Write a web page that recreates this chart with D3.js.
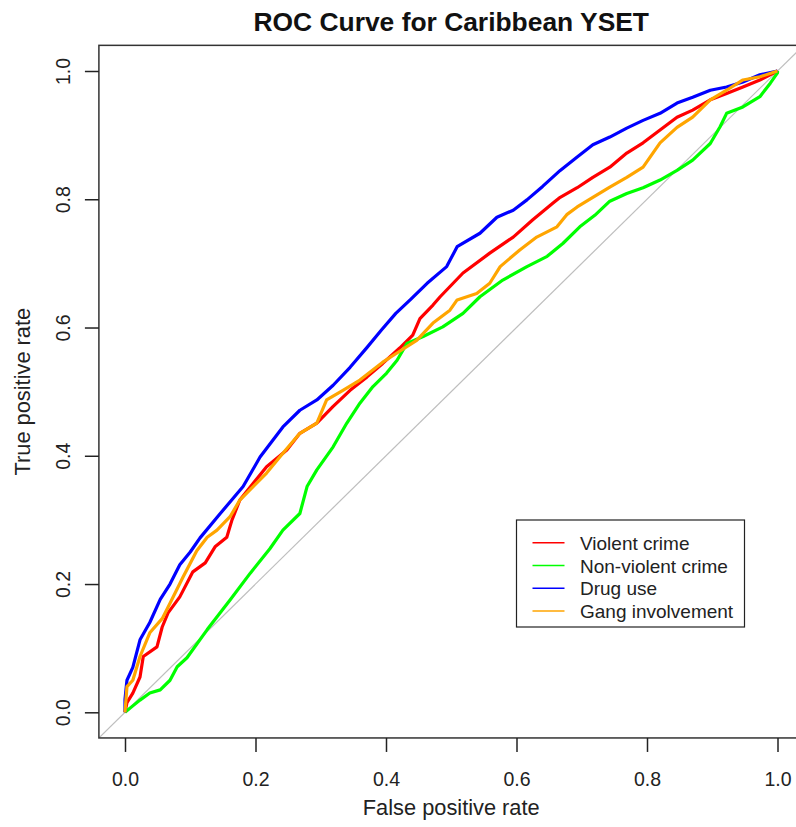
<!DOCTYPE html>
<html>
<head>
<meta charset="utf-8">
<script src="https://cdn.jsdelivr.net/npm/d3@7"></script>
<style>
  html, body { margin: 0; padding: 0; background: #fff; }
  svg { display: block; font-family: "Liberation Sans", Arial, sans-serif; }
</style>
</head>
<body>
<svg id="chart" width="796" height="827"></svg>
<script>
// ---- Data ----
const seriesNames = ["Violent crime", "Non-violent crime", "Drug use", "Gang involvement"];
const seriesColors = ["#FF0000", "#00FF00", "#0000FF", "#FFA500"];

const violentFpr = [0,0.003,0.012,0.023,0.028,0.049,0.057,0.066,0.084,0.104,0.123,0.138,0.156,0.164,0.176,0.217,0.248,0.268,0.294,0.319,0.345,0.371,0.395,0.421,0.441,0.452,0.472,0.483,0.518,0.559,0.595,0.625,0.656,0.667,0.693,0.717,0.743,0.769,0.794,0.820,0.846,0.870,0.897,0.922,0.947,0.973,1];
const violentTpr = [0,0.015,0.03,0.055,0.087,0.102,0.133,0.155,0.18,0.219,0.233,0.258,0.273,0.3,0.331,0.383,0.409,0.435,0.451,0.477,0.502,0.523,0.544,0.568,0.588,0.614,0.635,0.648,0.685,0.716,0.741,0.768,0.794,0.803,0.818,0.834,0.850,0.872,0.888,0.908,0.928,0.939,0.955,0.965,0.975,0.986,1];

const nonViolentFpr = [0,0.012,0.023,0.038,0.054,0.069,0.08,0.095,0.126,0.161,0.192,0.222,0.242,0.268,0.279,0.294,0.319,0.34,0.36,0.38,0.401,0.417,0.432,0.457,0.487,0.518,0.544,0.579,0.616,0.647,0.671,0.697,0.720,0.743,0.769,0.794,0.820,0.846,0.870,0.897,0.912,0.922,0.947,0.973,0.989,1,1];
const nonViolentTpr = [0,0.01,0.019,0.03,0.035,0.05,0.071,0.085,0.129,0.175,0.217,0.255,0.284,0.31,0.352,0.378,0.414,0.451,0.482,0.508,0.529,0.549,0.575,0.586,0.601,0.622,0.648,0.674,0.695,0.711,0.731,0.757,0.775,0.797,0.809,0.818,0.830,0.845,0.861,0.887,0.913,0.934,0.944,0.960,0.981,0.997,1];

const drugFpr = [0,0,0.003,0.012,0.023,0.038,0.054,0.069,0.084,0.1,0.115,0.146,0.181,0.207,0.242,0.268,0.294,0.319,0.345,0.371,0.393,0.415,0.437,0.463,0.493,0.509,0.544,0.570,0.595,0.616,0.640,0.667,0.693,0.717,0.743,0.769,0.794,0.820,0.846,0.870,0.897,0.922,0.947,0.973,1];
const drugTpr = [0,0.02,0.05,0.07,0.113,0.14,0.176,0.2,0.23,0.25,0.272,0.31,0.352,0.398,0.445,0.471,0.487,0.51,0.538,0.569,0.596,0.622,0.643,0.669,0.695,0.726,0.747,0.772,0.783,0.799,0.82,0.845,0.866,0.885,0.897,0.911,0.923,0.934,0.950,0.959,0.970,0.975,0.983,0.994,1];

const gangFpr = [0,0.003,0.012,0.023,0.038,0.057,0.069,0.089,0.11,0.126,0.141,0.161,0.176,0.217,0.242,0.268,0.294,0.309,0.334,0.360,0.395,0.421,0.447,0.472,0.498,0.509,0.539,0.559,0.575,0.605,0.631,0.662,0.677,0.693,0.717,0.743,0.769,0.794,0.820,0.846,0.870,0.897,0.922,0.947,0.973,1];
const gangTpr = [0,0.04,0.05,0.087,0.124,0.146,0.17,0.211,0.252,0.273,0.284,0.305,0.331,0.373,0.404,0.435,0.451,0.487,0.502,0.518,0.546,0.563,0.580,0.607,0.627,0.643,0.653,0.669,0.695,0.721,0.741,0.757,0.776,0.788,0.803,0.819,0.834,0.850,0.888,0.912,0.928,0.955,0.970,0.986,0.991,1];

const tickValues = [0, 0.2, 0.4, 0.6, 0.8, 1.0];
const titleText = "ROC Curve for Caribbean YSET";
const xLabel = "False positive rate";
const yLabel = "True positive rate";

// ---- Layout ----
const svg = d3.select("#chart");
const x = d3.scaleLinear().domain([0, 1]).range([125, 777.5]);
const y = d3.scaleLinear().domain([0, 1]).range([712.3, 71]);
const xMin = x(-0.04), xMax = x(1.04), yMin = y(-0.04), yMax = y(1.04);

svg.append("defs").append("clipPath").attr("id", "plotclip")
  .append("rect").attr("x", xMin).attr("y", yMax).attr("width", xMax - xMin).attr("height", yMin - yMax);

// diagonal reference line
svg.append("line")
  .attr("clip-path", "url(#plotclip)")
  .attr("x1", x(-0.1)).attr("y1", y(-0.1)).attr("x2", x(1.1)).attr("y2", y(1.1))
  .attr("stroke", "#BEBEBE").attr("stroke-width", 1.2);

// series
const series = [
  {fpr: violentFpr, tpr: violentTpr},
  {fpr: nonViolentFpr, tpr: nonViolentTpr},
  {fpr: drugFpr, tpr: drugTpr},
  {fpr: gangFpr, tpr: gangTpr}
];
const line = d3.line().x(d => x(d[0])).y(d => y(d[1]));
series.forEach((s, i) => {
  const pts = s.fpr.map((v, j) => [v, s.tpr[j]]);
  svg.append("path")
    .attr("d", line(pts))
    .attr("fill", "none")
    .attr("stroke", seriesColors[i])
    .attr("stroke-width", 3.2)
    .attr("stroke-linejoin", "round");
});

// plot box
svg.append("rect")
  .attr("x", xMin).attr("y", yMax).attr("width", xMax - xMin).attr("height", yMin - yMax)
  .attr("fill", "none").attr("stroke", "#333").attr("stroke-width", 1.5);

// axes
const fmt = d3.format(".1f");
const xAxis = d3.axisBottom(x).tickValues(tickValues).tickFormat(fmt).tickSize(14).tickPadding(20);
const gx = svg.append("g").attr("transform", `translate(0,${yMin})`).call(xAxis);
gx.select(".domain").remove();
gx.selectAll("line").attr("stroke", "#222").attr("stroke-width", 1.5);
gx.selectAll("text").attr("font-size", "19.5px").attr("fill", "#222").attr("font-family", "Liberation Sans, Arial, sans-serif");

const yAxis = d3.axisLeft(y).tickValues(tickValues).tickFormat(fmt).tickSize(14);
const gy = svg.append("g").attr("transform", `translate(${xMin},0)`).call(yAxis);
gy.select(".domain").remove();
gy.selectAll("line").attr("stroke", "#222").attr("stroke-width", 1.5);
gy.selectAll("text")
  .attr("font-size", "19.5px").attr("fill", "#222").attr("font-family", "Liberation Sans, Arial, sans-serif")
  .attr("x", null).attr("dy", null)
  .attr("text-anchor", "middle")
  .attr("transform", `translate(${70 - xMin},0) rotate(-90)`);

// title & labels
svg.append("text").attr("x", (xMin + xMax) / 2).attr("y", 31)
  .attr("text-anchor", "middle").attr("font-weight", "bold").attr("font-size", "26.4px").attr("fill", "#111")
  .text(titleText);
svg.append("text").attr("x", (xMin + xMax) / 2).attr("y", 815)
  .attr("text-anchor", "middle").attr("font-size", "21.8px").attr("fill", "#222")
  .text(xLabel);
svg.append("text")
  .attr("transform", `translate(30,${(yMin + yMax) / 2}) rotate(-90)`)
  .attr("text-anchor", "middle").attr("font-size", "21.8px").attr("fill", "#222")
  .text(yLabel);

// legend
const lg = svg.append("g");
lg.append("rect").attr("x", 516.5).attr("y", 520).attr("width", 228).attr("height", 107)
  .attr("fill", "#fff").attr("stroke", "#222").attr("stroke-width", 1.2);
seriesNames.forEach((name, i) => {
  const yy = 542.7 + i * 22.8;
  lg.append("line").attr("x1", 532.5).attr("x2", 564.5).attr("y1", yy).attr("y2", yy)
    .attr("stroke", seriesColors[i]).attr("stroke-width", 1.5);
  lg.append("text").attr("x", 580).attr("y", yy + 7)
    .attr("font-size", "19px").attr("fill", "#222").text(name);
});
</script>
</body>
</html>
